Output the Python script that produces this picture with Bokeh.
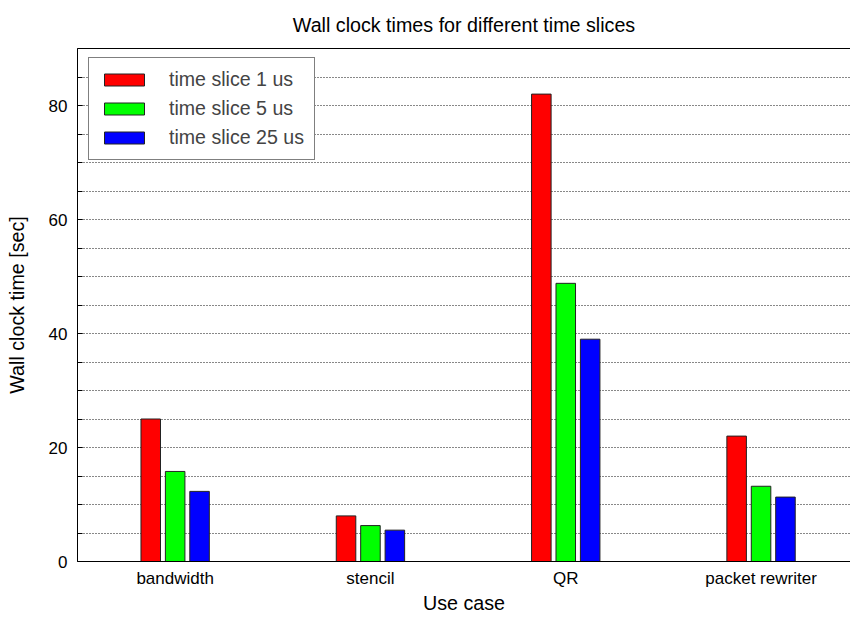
import numpy as np
from bokeh.plotting import figure
from bokeh.models import (ColumnDataSource, Range1d, FixedTicker, SingleIntervalTicker,
                          Legend, LegendItem, LinearAxis)
from bokeh.embed import file_html
from bokeh.resources import INLINE

categories = ["bandwidth", "stencil", "QR", "packet rewriter"]
series_names = ["time slice 1 us", "time slice 5 us", "time slice 25 us"]
slice_1us = [25.0, 8.0, 82.0, 22.0]
slice_5us = [15.8, 6.3, 48.8, 13.2]
slice_25us = [12.3, 5.5, 39.0, 11.3]
series_values = [slice_1us, slice_5us, slice_25us]
colors = ["#ff0000", "#00ff00", "#0000ff"]
grid_ticks = [5, 10, 15, 20, 25, 30, 35, 40, 45, 50, 55, 60, 65, 70, 75, 80, 85]

FONT = "Liberation Sans"

p = figure(width=850, height=617, output_backend="svg", toolbar_location=None,
           x_range=Range1d(-0.5, 3.458), y_range=Range1d(0, 90),
           min_border_left=77, min_border_right=0, min_border_top=48, min_border_bottom=56,
           title="Wall clock times for different time slices")

p.title.align = "center"
p.title.vertical_align = "top"
p.title.text_font = FONT
p.title.text_font_size = "19.7px"
p.title.text_font_style = "normal"
p.title.text_color = "#000000"
p.title.offset = 4
p.title.standoff = 22

x_idx = np.arange(len(categories))
offsets = [-0.125, 0.0, 0.125]
renderers = []
for name, vals, col, off in zip(series_names, series_values, colors, offsets):
    src = ColumnDataSource(dict(x=x_idx + off, top=vals))
    r = p.vbar(x="x", top="top", width=0.1, bottom=0, source=src,
               fill_color=col, line_color="#222222", line_width=1)
    renderers.append((name, r))

bottom_axis = p.below[0]
left_axis = p.left[0]

# top border line (the right border lies outside the picture)
top_axis = LinearAxis(ticker=FixedTicker(ticks=[]),
                      major_tick_in=0, major_tick_out=0, minor_tick_in=0, minor_tick_out=0,
                      major_label_standoff=0, axis_line_color="#000000", axis_line_width=1)
p.add_layout(top_axis, "above")

# axes
bottom_axis.ticker = FixedTicker(ticks=list(x_idx))
bottom_axis.major_label_overrides = {int(i): c for i, c in zip(x_idx, categories)}
bottom_axis.major_tick_in = 0
bottom_axis.major_tick_out = 0
bottom_axis.minor_tick_in = 0
bottom_axis.minor_tick_out = 0
bottom_axis.major_label_standoff = 7
bottom_axis.axis_label = "Use case"
bottom_axis.axis_label_standoff = 1

left_axis.ticker = SingleIntervalTicker(interval=20, num_minor_ticks=4)
left_axis.major_tick_in = 5
left_axis.major_tick_out = 0
left_axis.minor_tick_in = 5
left_axis.minor_tick_out = 0
left_axis.major_label_standoff = 10
left_axis.axis_label = "Wall clock time [sec]"
left_axis.axis_label_standoff = 18

for ax in (bottom_axis, left_axis):
    ax.axis_line_color = "#000000"
    ax.axis_line_width = 1
    ax.major_tick_line_color = "#000000"
    ax.minor_tick_line_color = "#000000"
    ax.major_label_text_font = FONT
    ax.major_label_text_font_size = "17px"
    ax.major_label_text_color = "#000000"
    ax.axis_label_text_font = FONT
    ax.axis_label_text_font_size = "19.7px"
    ax.axis_label_text_font_style = "normal"
    ax.axis_label_text_color = "#000000"

p.xgrid.grid_line_color = None
p.ygrid.ticker = FixedTicker(ticks=grid_ticks)
p.ygrid.grid_line_color = "#111111"
p.ygrid.grid_line_dash = "1 2"
p.ygrid.grid_line_width = 1

p.outline_line_color = None
p.background_fill_color = "white"
p.border_fill_color = "white"

legend = Legend(items=[LegendItem(label=n, renderers=[r]) for n, r in renderers],
                location=(11, 401), margin=0, padding=10, spacing=6,
                glyph_width=50, glyph_height=15, label_height=20, label_standoff=20,
                label_text_font=FONT, label_text_font_size="19.6px",
                border_line_color="#000000", border_line_width=1,
                background_fill_color="white", background_fill_alpha=1.0)
p.add_layout(legend, "center")

open("out.html", "w").write(file_html(p, INLINE))
